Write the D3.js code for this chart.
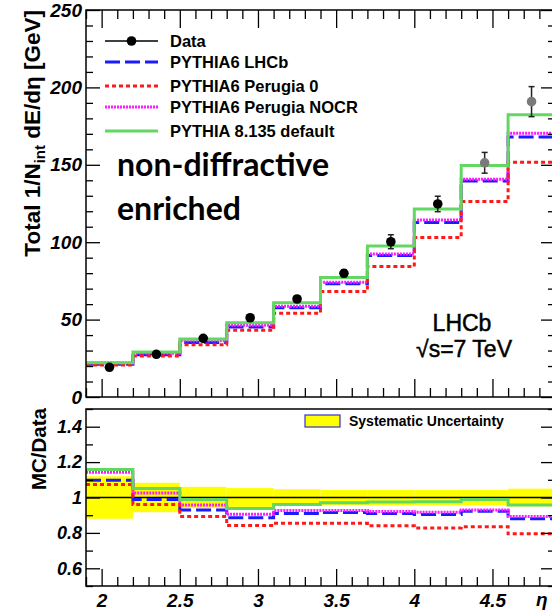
<!DOCTYPE html>
<html>
<head>
<meta charset="utf-8">
<script src="https://cdn.jsdelivr.net/npm/d3@7"></script>
<style>
  html, body { margin: 0; padding: 0; background: #fff; }
  svg { display: block; }
  .tick text { font-family: "Liberation Sans", Arial, sans-serif; font-weight: bold; font-style: italic; fill: #000; }
</style>
</head>
<body>
<svg id="chart" width="552" height="611"></svg>
<script>
// Pseudorapidity bins (eta)
const binEdges = [1.9, 2.2, 2.5, 2.8, 3.1, 3.4, 3.7, 4.0, 4.3, 4.6, 4.9];

// Measured total energy flow, non-diffractive enriched sample [GeV]
const dataValues = [19.2, 27.6, 37.9, 51.2, 63.3, 79.9, 100.3, 124.7, 151.3, 190.8];
const dataErrors = [1.0, 1.0, 1.2, 1.5, 1.8, 2.2, 4.5, 5.0, 6.7, 9.7];
// last two bins drawn with grey markers
const dataGrey = [false, false, false, false, false, false, false, false, true, true];

// Generator predictions [GeV]
const pythia6LHCb   = [21.1, 27.3, 35.2, 45.3, 57.7, 73.2, 91.4, 112.7, 139.5, 168.0];
const perugia0      = [20.6, 26.5, 33.8, 43.1, 54.1, 68.2, 84.3, 103.1, 126.3, 151.7];
const perugiaNOCR   = [21.9, 28.3, 36.3, 46.4, 58.7, 74.1, 92.4, 114.3, 140.7, 170.4];
const pythia8       = [22.2, 29.0, 37.5, 48.0, 60.9, 77.2, 97.5, 121.5, 149.5, 182.4];

// MC / Data ratios
const ratioLHCb     = [1.098, 0.989, 0.929, 0.885, 0.910, 0.915, 0.910, 0.904, 0.923, 0.880];
const ratioPerugia0 = [1.073, 0.961, 0.893, 0.842, 0.854, 0.854, 0.840, 0.827, 0.835, 0.795];
const ratioNOCR     = [1.143, 1.026, 0.957, 0.906, 0.927, 0.927, 0.921, 0.917, 0.930, 0.893];
const ratioPythia8  = [1.158, 1.051, 0.989, 0.938, 0.961, 0.970, 0.974, 0.976, 0.989, 0.957];

// Relative systematic uncertainty per bin
const systUnc = [0.12, 0.083, 0.06, 0.053, 0.047, 0.043, 0.043, 0.043, 0.043, 0.05];

// Axis ticks
const xMajor = [2, 2.5, 3, 3.5, 4, 4.5];
const xLabels = ["2", "2.5", "3", "3.5", "4", "4.5"];
const yTopMajor = [0, 50, 100, 150, 200, 250];
const yRatMajor = [0.6, 0.8, 1.0, 1.2, 1.4];
const yRatLabels = ["0.6", "0.8", "1", "1.2", "1.4"];

const legendLabels = ["Data", "PYTHIA6 LHCb", "PYTHIA6 Perugia 0", "PYTHIA6 Perugia NOCR", "PYTHIA 8.135 default"];

const FONT = '"Liberation Sans", Arial, Helvetica, sans-serif';

const svg = d3.select("#chart");

const x = d3.scaleLinear().domain([1.9, 4.9]).range([86, 555]);
const yTop = d3.scaleLinear().domain([0, 250]).range([397, 10]);
const yRat = d3.scaleLinear().domain([0.5, 1.5]).range([586, 409]);

const styles = {
  lhcb:  { color: "#1a1aff", dash: "15,5", width: 3 },
  p0:    { color: "#ff1a1a", dash: "4,3",  width: 3 },
  nocr:  { color: "#ff1aff", dash: "2,1",  width: 3 },
  p8:    { color: "#62d862", dash: null,   width: 3 }
};

function minorTicks(lo, hi, step) {
  const out = [];
  const n = Math.round((hi - lo) / step);
  for (let i = 0; i <= n; i++) out.push(+(lo + i * step).toFixed(6));
  return out;
}

function stepPath(values, yScale) {
  let d = "";
  values.forEach((v, i) => {
    const x0 = x(binEdges[i]), x1 = x(binEdges[i + 1]), yy = yScale(v);
    d += (i === 0 ? "M" : "L") + x0 + "," + yy + "L" + x1 + "," + yy;
  });
  return d;
}

function drawStep(g, values, yScale, st) {
  g.append("path")
    .attr("d", stepPath(values, yScale))
    .attr("fill", "none")
    .attr("stroke", st.color)
    .attr("stroke-width", st.width)
    .attr("stroke-dasharray", st.dash)
    .attr("stroke-linejoin", "miter");
}

function styleAxis(g) {
  g.select(".domain").remove();
  g.selectAll(".tick line").attr("stroke", "#000").attr("stroke-width", 1.3);
}

// ---------- Upper panel ----------
const upper = svg.append("g");
svg.append("clipPath").attr("id", "clipTop")
  .append("rect").attr("x", 86).attr("y", 10).attr("width", 469).attr("height", 387);

const upperPlot = upper.append("g").attr("clip-path", "url(#clipTop)");
drawStep(upperPlot, pythia6LHCb, yTop, styles.lhcb);
drawStep(upperPlot, perugiaNOCR, yTop, styles.nocr);
drawStep(upperPlot, perugia0, yTop, styles.p0);
drawStep(upperPlot, pythia8, yTop, styles.p8);

// data points with error bars
const centers = dataValues.map((v, i) => (binEdges[i] + binEdges[i + 1]) / 2);
const pts = upperPlot.selectAll("g.pt").data(dataValues).enter().append("g");
pts.append("line")
  .attr("x1", (d, i) => x(centers[i])).attr("x2", (d, i) => x(centers[i]))
  .attr("y1", (d, i) => yTop(d + dataErrors[i])).attr("y2", (d, i) => yTop(d - dataErrors[i]))
  .attr("stroke", "#222").attr("stroke-width", 1.5);
[1, -1].forEach(s => {
  pts.append("line")
    .attr("x1", (d, i) => x(centers[i]) - 3).attr("x2", (d, i) => x(centers[i]) + 3)
    .attr("y1", (d, i) => yTop(d + s * dataErrors[i])).attr("y2", (d, i) => yTop(d + s * dataErrors[i]))
    .attr("stroke", "#222").attr("stroke-width", 1.5);
});
pts.append("circle")
  .attr("cx", (d, i) => x(centers[i])).attr("cy", d => yTop(d)).attr("r", 4.8)
  .attr("fill", (d, i) => dataGrey[i] ? "#7a7a7a" : "#000");

// frame and ticks
upper.append("rect").attr("x", 86).attr("y", 10).attr("width", 469).attr("height", 387)
  .attr("fill", "none").attr("stroke", "#000").attr("stroke-width", 1.5);

const yTopMinor = minorTicks(0, 250, 10).filter(v => v % 50 !== 0);
const xMinor = minorTicks(1.9, 4.9, 0.1).filter(v => Math.abs(v * 2 - Math.round(v * 2)) > 1e-6);

upper.append("g").attr("transform", "translate(86,0)")
  .call(d3.axisLeft(yTop).tickValues(yTopMajor).tickSize(-14).tickPadding(4).tickFormat(d3.format("d")))
  .call(styleAxis)
  .call(g => g.selectAll(".tick text").attr("font-size", 19));
upper.append("g").attr("transform", "translate(86,0)")
  .call(d3.axisLeft(yTop).tickValues(yTopMinor).tickSize(-7).tickFormat(""))
  .call(styleAxis);
upper.append("g").attr("transform", "translate(555,0)")
  .call(d3.axisRight(yTop).tickValues(yTopMajor).tickSize(-14).tickFormat(""))
  .call(styleAxis);
upper.append("g").attr("transform", "translate(555,0)")
  .call(d3.axisRight(yTop).tickValues(yTopMinor).tickSize(-7).tickFormat(""))
  .call(styleAxis);
upper.append("g").attr("transform", "translate(0,397)")
  .call(d3.axisBottom(x).tickValues(xMajor).tickSize(-18).tickFormat(""))
  .call(styleAxis);
upper.append("g").attr("transform", "translate(0,397)")
  .call(d3.axisBottom(x).tickValues(xMinor).tickSize(-9).tickFormat(""))
  .call(styleAxis);
upper.append("g").attr("transform", "translate(0,10)")
  .call(d3.axisTop(x).tickValues(xMajor).tickSize(-18).tickFormat(""))
  .call(styleAxis);
upper.append("g").attr("transform", "translate(0,10)")
  .call(d3.axisTop(x).tickValues(xMinor).tickSize(-9).tickFormat(""))
  .call(styleAxis);

// y title
const yTitle = upper.append("text")
  .attr("transform", "translate(40,10) rotate(-90)")
  .attr("text-anchor", "end")
  .attr("font-family", FONT).attr("font-weight", "bold").attr("font-size", 22.5);
yTitle.append("tspan").text("Total 1/N");
yTitle.append("tspan").attr("font-size", 15).attr("dy", 5).text("int");
yTitle.append("tspan").attr("dy", -5).text(" dE/dη [GeV]");

// legend
const legY = [41, 62, 86, 107, 131];
const legStyles = [null, styles.lhcb, styles.p0, styles.nocr, styles.p8];
const leg = upper.append("g");
legendLabels.forEach((lab, i) => {
  const st = legStyles[i];
  if (st) {
    leg.append("line").attr("x1", 105).attr("x2", 158).attr("y1", legY[i]).attr("y2", legY[i])
      .attr("stroke", st.color).attr("stroke-width", st.width).attr("stroke-dasharray", st.dash);
  } else {
    leg.append("line").attr("x1", 105).attr("x2", 158).attr("y1", legY[i]).attr("y2", legY[i])
      .attr("stroke", "#000").attr("stroke-width", 1.3);
    leg.append("circle").attr("cx", 131.5).attr("cy", legY[i]).attr("r", 4.8).attr("fill", "#000");
  }
  leg.append("text").attr("x", 170).attr("y", legY[i]).attr("dy", "0.36em")
    .attr("font-family", FONT).attr("font-weight", "bold").attr("font-size", 16.5)
    .text(lab);
});

// annotations
upper.append("text").attr("x", 117).attr("y", 176)
  .attr("font-family", "Lato, 'Open Sans', sans-serif").attr("font-weight", "bold").attr("font-size", 32)
  .text("non-diffractive");
upper.append("text").attr("x", 117).attr("y", 220)
  .attr("font-family", "Lato, 'Open Sans', sans-serif").attr("font-weight", "bold").attr("font-size", 32)
  .text("enriched");
upper.append("text").attr("x", 462).attr("y", 331).attr("text-anchor", "middle")
  .attr("font-family", FONT).attr("font-size", 23)
  .attr("stroke", "#000").attr("stroke-width", 0.5)
  .text("LHCb");
upper.append("text").attr("x", 464).attr("y", 357).attr("text-anchor", "middle")
  .attr("font-family", FONT).attr("font-size", 23)
  .attr("stroke", "#000").attr("stroke-width", 0.5)
  .text("√s=7 TeV");

// ---------- Ratio panel ----------
const lower = svg.append("g");
svg.append("clipPath").attr("id", "clipBot")
  .append("rect").attr("x", 86).attr("y", 409).attr("width", 469).attr("height", 177);
const lowerPlot = lower.append("g").attr("clip-path", "url(#clipBot)");

lowerPlot.selectAll("rect.syst").data(systUnc).enter().append("rect")
  .attr("x", (d, i) => x(binEdges[i])).attr("width", (d, i) => x(binEdges[i + 1]) - x(binEdges[i]))
  .attr("y", d => yRat(1 + d)).attr("height", d => yRat(1 - d) - yRat(1 + d))
  .attr("fill", "#ffff00");
lowerPlot.append("line").attr("x1", 86).attr("x2", 555).attr("y1", yRat(1)).attr("y2", yRat(1))
  .attr("stroke", "#000").attr("stroke-width", 1.3);

drawStep(lowerPlot, ratioLHCb, yRat, styles.lhcb);
drawStep(lowerPlot, ratioNOCR, yRat, styles.nocr);
drawStep(lowerPlot, ratioPerugia0, yRat, styles.p0);
drawStep(lowerPlot, ratioPythia8, yRat, styles.p8);

lower.append("rect").attr("x", 86).attr("y", 409).attr("width", 469).attr("height", 177)
  .attr("fill", "none").attr("stroke", "#000").attr("stroke-width", 1.5);

const yRatMinor = [0.5, 0.7, 0.9, 1.1, 1.3, 1.5];
lower.append("g").attr("transform", "translate(86,0)")
  .call(d3.axisLeft(yRat).tickValues(yRatMajor).tickSize(-14).tickPadding(4)
    .tickFormat((d, i) => yRatLabels[i]))
  .call(styleAxis)
  .call(g => g.selectAll(".tick text").attr("font-size", 18));
lower.append("g").attr("transform", "translate(86,0)")
  .call(d3.axisLeft(yRat).tickValues(yRatMinor).tickSize(-7).tickFormat(""))
  .call(styleAxis);
lower.append("g").attr("transform", "translate(555,0)")
  .call(d3.axisRight(yRat).tickValues(yRatMajor).tickSize(-14).tickFormat(""))
  .call(styleAxis);
lower.append("g").attr("transform", "translate(555,0)")
  .call(d3.axisRight(yRat).tickValues(yRatMinor).tickSize(-7).tickFormat(""))
  .call(styleAxis);
lower.append("g").attr("transform", "translate(0,586)")
  .call(d3.axisBottom(x).tickValues(xMajor).tickSize(-17).tickPadding(8)
    .tickFormat((d, i) => xLabels[i]))
  .call(styleAxis)
  .call(g => g.selectAll(".tick text").attr("font-size", 19));
lower.append("g").attr("transform", "translate(0,586)")
  .call(d3.axisBottom(x).tickValues(xMinor).tickSize(-9).tickFormat(""))
  .call(styleAxis);

// ratio legend
lower.append("rect").attr("x", 305).attr("y", 415).attr("width", 35).attr("height", 12)
  .attr("fill", "#ffff00").attr("stroke", "#3333cc").attr("stroke-width", 1.2);
lower.append("text").attr("x", 349).attr("y", 421).attr("dy", "0.36em")
  .attr("font-family", FONT).attr("font-weight", "bold").attr("font-size", 14)
  .text("Systematic Uncertainty");

// ratio y title
lower.append("text")
  .attr("transform", "translate(46,408) rotate(-90)")
  .attr("text-anchor", "end")
  .attr("font-family", FONT).attr("font-weight", "bold").attr("font-size", 20.5)
  .text("MC/Data");

// x axis title
lower.append("text").attr("x", 536).attr("y", 606)
  .attr("font-family", FONT).attr("font-weight", "bold").attr("font-style", "italic").attr("font-size", 19)
  .text("η");
</script>
</body>
</html>
